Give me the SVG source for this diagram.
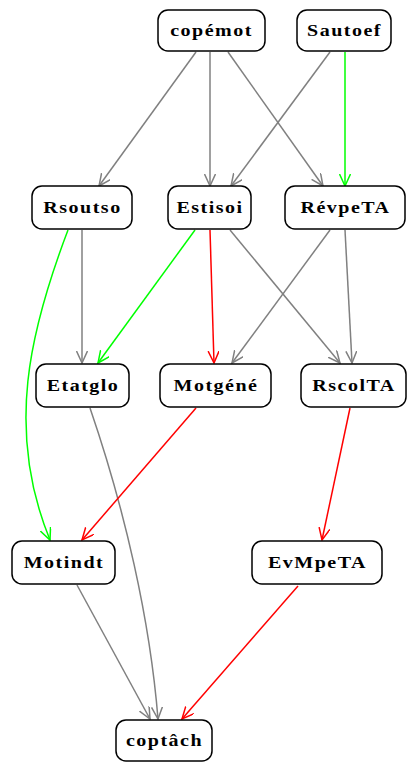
<svg xmlns="http://www.w3.org/2000/svg" width="407" height="762" viewBox="0 0 407 762">
<style>
.n rect{fill:#fff;stroke:#000;stroke-width:1.5}
.n text{font-family:"Liberation Serif",serif;font-weight:bold;font-size:16px;letter-spacing:1.2px;text-anchor:middle;dominant-baseline:central}
.e path{fill:none;stroke-width:1.5}
.g{stroke:#808080}
.gr{stroke:#00ff00}
.r{stroke:#ff0000}
</style>
<defs>
<marker id="ag" markerWidth="14" markerHeight="12" refX="12" refY="5.5" orient="auto" markerUnits="userSpaceOnUse"><path d="M0,0 L12,5.5 L0,11" fill="none" stroke="#808080" stroke-width="1.5"/></marker>
<marker id="agr" markerWidth="14" markerHeight="12" refX="12" refY="5.5" orient="auto" markerUnits="userSpaceOnUse"><path d="M0,0 L12,5.5 L0,11" fill="none" stroke="#00ff00" stroke-width="1.5"/></marker>
<marker id="ar" markerWidth="14" markerHeight="12" refX="12" refY="5.5" orient="auto" markerUnits="userSpaceOnUse"><path d="M0,0 L12,5.5 L0,11" fill="none" stroke="#ff0000" stroke-width="1.5"/></marker>
</defs>
<g id="edges" class="e">
<path class="g" d="M196,52 L99,186" marker-end="url(#ag)"/>
<path class="g" d="M210,52 L210,186" marker-end="url(#ag)"/>
<path class="g" d="M228,52 L323,186" marker-end="url(#ag)"/>
<path class="g" d="M330,52 L231,186" marker-end="url(#ag)"/>
<path class="gr" d="M345,52 L345,186" marker-end="url(#agr)"/>
<path class="g" d="M82,230 L82,363" marker-end="url(#ag)"/>
<path class="gr" d="M68,230 C30,330 5,430 50,540" marker-end="url(#agr)"/>
<path class="gr" d="M195,230 L98,363" marker-end="url(#agr)"/>
<path class="r" d="M210,230 L214,363" marker-end="url(#ar)"/>
<path class="g" d="M230,230 L340,363" marker-end="url(#ag)"/>
<path class="g" d="M330,230 L232,363" marker-end="url(#ag)"/>
<path class="g" d="M345,230 L352,363" marker-end="url(#ag)"/>
<path class="g" d="M90,408 C125,510 150,620 158,719" marker-end="url(#ag)"/>
<path class="r" d="M196,408 L82,540" marker-end="url(#ar)"/>
<path class="r" d="M350,408 L322,540" marker-end="url(#ar)"/>
<path class="g" d="M77,585 L150,719" marker-end="url(#ag)"/>
<path class="r" d="M298,586 L182,719" marker-end="url(#ar)"/>
</g>
<g id="copemot" class="n"><rect x="158" y="10" width="107" height="41" rx="10"/><text transform="translate(211.5,31) scale(1.25,1)">copémot</text></g>
<g id="Sautoef" class="n"><rect x="297" y="10" width="94" height="41" rx="10"/><text transform="translate(344.5,31) scale(1.25,1)">Sautoef</text></g>
<g id="Rsoutso" class="n"><rect x="32" y="186" width="100" height="43" rx="10"/><text transform="translate(82.5,208) scale(1.25,1)">Rsoutso</text></g>
<g id="Estisoi" class="n"><rect x="168" y="186" width="83" height="43" rx="10"/><text transform="translate(210,208) scale(1.25,1)">Estisoi</text></g>
<g id="RevpeTA" class="n"><rect x="285" y="186" width="120" height="43" rx="10"/><text transform="translate(345.5,208) scale(1.25,1)">RévpeTA</text></g>
<g id="Etatglo" class="n"><rect x="36" y="364" width="93" height="43" rx="10"/><text transform="translate(83,386) scale(1.25,1)">Etatglo</text></g>
<g id="Motgene" class="n"><rect x="160" y="364" width="111" height="43" rx="10"/><text transform="translate(216,386) scale(1.25,1)">Motgéné</text></g>
<g id="RscolTA" class="n"><rect x="301" y="364" width="105" height="43" rx="10"/><text transform="translate(354,386) scale(1.25,1)">RscolTA</text></g>
<g id="Motindt" class="n"><rect x="12" y="541" width="103" height="43" rx="10"/><text transform="translate(64,563) scale(1.25,1)">Motindt</text></g>
<g id="EvMpeTA" class="n"><rect x="252" y="541" width="130" height="43" rx="10"/><text transform="translate(317.5,563) scale(1.25,1)">EvMpeTA</text></g>
<g id="coptach" class="n"><rect x="116" y="720" width="96" height="41" rx="10"/><text transform="translate(164.5,741) scale(1.25,1)">coptâch</text></g>
</svg>
